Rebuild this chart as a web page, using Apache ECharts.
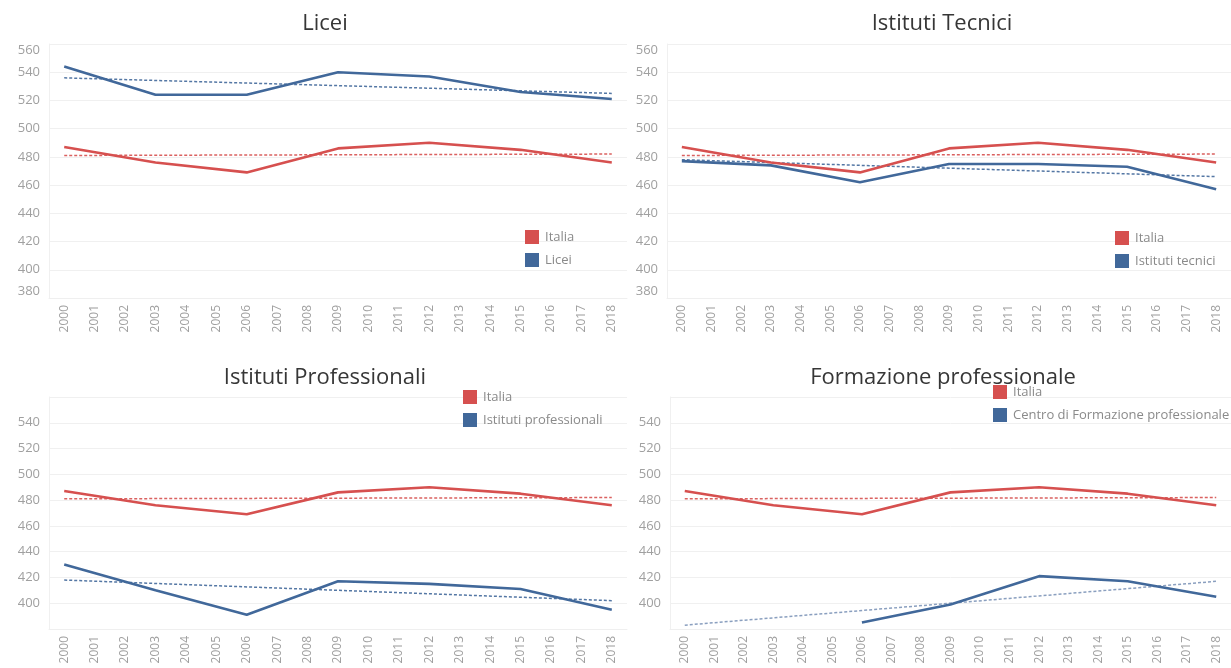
<!DOCTYPE html>
<html>
<head>
<meta charset="utf-8">
<title>Punteggi PISA per indirizzo</title>
<script src="https://cdn.jsdelivr.net/npm/echarts@6/dist/echarts.min.js"></script>
<style>
html, body { margin: 0; padding: 0; background: #fff; }
#chart { width: 1231px; height: 668px; }
</style>
</head>
<body>
<div id="chart"></div>
<script>
// tick labels on the x axes
const YEARS = ['2000', '2001', '2002', '2003', '2004', '2005', '2006', '2007', '2008', '2009',
  '2010', '2011', '2012', '2013', '2014', '2015', '2016', '2017', '2018']
// years with a survey
const SURVEY_YEARS = ['2000', '2003', '2006', '2009', '2012', '2015', '2018']

const ITALIA = [487, 476, 469, 486, 490, 485, 476]
const LICEI = [544, 524, 524, 540, 537, 526, 521]
const TECNICI = [477, 474, 462, 475, 475, 473, 457]
const PROFESSIONALI = [430, 410, 391, 417, 415, 411, 395]
const FORMAZIONE = [null, null, 385, 399, 421, 417, 405]

// trend lines: value at 2000 and at 2018
const ITALIA_TREND = [481, 482]
const LICEI_TREND = [536, 525]
const TECNICI_TREND = [478, 466]
const PROFESSIONALI_TREND = [418, 402]
const FORMAZIONE_TREND = [383, 417]

const Y_MIN = 380
const Y_MAX = 560
const Y_STEP = 20

const RED = '#d6504f'
const BLUE = '#41689a'
const FONT = '"Open Sans", "Noto Sans", sans-serif'

const panels = [
  {
    title: 'Licei', name: 'Licei', values: LICEI, trend: LICEI_TREND, trendColor: BLUE,
    grid: { left: 49, top: 44, width: 578, height: 254 },
    titleAt: [320, 8], legendAt: [525, 230], edgeLabels: true
  },
  {
    title: 'Istituti Tecnici', name: 'Istituti tecnici', values: TECNICI, trend: TECNICI_TREND, trendColor: BLUE,
    grid: { left: 667, top: 44, width: 574, height: 254 },
    titleAt: [937, 8], legendAt: [1115, 231], edgeLabels: true
  },
  {
    title: 'Istituti Professionali', name: 'Istituti professionali', values: PROFESSIONALI, trend: PROFESSIONALI_TREND, trendColor: BLUE,
    grid: { left: 49, top: 397, width: 578, height: 232 },
    titleAt: [320, 362], legendAt: [463, 390], edgeLabels: false
  },
  {
    title: 'Formazione professionale', name: 'Centro di Formazione professionale', values: FORMAZIONE, trend: FORMAZIONE_TREND, trendColor: '#7d95b8',
    grid: { left: 670, top: 397, width: 570, height: 232 },
    titleAt: [938, 362], legendAt: [993, 385], edgeLabels: false
  }
]

function surveyData(vals) {
  return SURVEY_YEARS.map((y, i) => [y, vals[i]])
}
function trendData(ends) {
  return [[YEARS[0], ends[0]], [YEARS[YEARS.length - 1], ends[1]]]
}

const option = {
  animation: false,
  textStyle: { fontFamily: FONT },
  title: panels.map((p) => ({
    text: p.title,
    left: p.titleAt[0],
    top: p.titleAt[1],
    textAlign: 'center',
    textStyle: { fontSize: 22, fontWeight: 500, color: '#363636', fontFamily: FONT }
  })),
  legend: panels.map((p) => ({
    orient: 'vertical',
    left: p.legendAt[0],
    top: p.legendAt[1],
    padding: 0,
    icon: 'rect',
    itemWidth: 14,
    itemHeight: 14,
    itemGap: 9,
    selectedMode: false,
    data: ['Italia', p.name],
    textStyle: { fontSize: 13, color: '#8a8a8a', fontFamily: FONT, padding: [0, 0, 0, 1] }
  })),
  grid: panels.map((p) => p.grid),
  xAxis: panels.map((p, i) => ({
    type: 'category',
    gridIndex: i,
    data: YEARS,
    boundaryGap: true,
    axisLine: { show: true, lineStyle: { color: '#efefef' } },
    axisTick: { show: false },
    axisLabel: { rotate: 90, interval: 0, margin: 7, fontSize: 12, color: '#a0a0a0' },
    splitLine: { show: false }
  })),
  yAxis: panels.map((p, i) => ({
    type: 'value',
    gridIndex: i,
    min: Y_MIN,
    max: Y_MAX,
    interval: Y_STEP,
    axisLine: { show: true, lineStyle: { color: '#f0f0f0' } },
    axisTick: { show: false },
    axisLabel: {
      margin: 9,
      fontSize: 13,
      color: '#a0a0a0',
      verticalAlignMinLabel: 'bottom',
      verticalAlignMaxLabel: 'top',
      formatter: (v) => (!p.edgeLabels && (v === Y_MIN || v === Y_MAX) ? '' : String(v))
    },
    splitLine: { show: true, lineStyle: { color: '#f0f0f0', width: 1 } }
  })),
  series: []
}

panels.forEach((p, i) => {
  option.series.push(
    {
      name: 'Italia-trend', type: 'line', xAxisIndex: i, yAxisIndex: i,
      data: trendData(ITALIA_TREND), showSymbol: false, silent: true,
      lineStyle: { color: RED, width: 1.5, type: [3, 2], opacity: 0.9 }
    },
    {
      name: p.name + '-trend', type: 'line', xAxisIndex: i, yAxisIndex: i,
      data: trendData(p.trend), showSymbol: false, silent: true,
      lineStyle: { color: p.trendColor, width: 1.5, type: [3, 2], opacity: 0.9 }
    },
    {
      name: 'Italia', type: 'line', xAxisIndex: i, yAxisIndex: i,
      data: surveyData(ITALIA), showSymbol: false, connectNulls: true,
      itemStyle: { color: RED },
      lineStyle: { color: RED, width: 2.6 }
    },
    {
      name: p.name, type: 'line', xAxisIndex: i, yAxisIndex: i,
      data: surveyData(p.values), showSymbol: false, connectNulls: true,
      itemStyle: { color: BLUE },
      lineStyle: { color: BLUE, width: 2.6 }
    }
  )
})

const chart = echarts.init(document.getElementById('chart'), null, { renderer: 'canvas' })
chart.setOption(option)
window.addEventListener('resize', () => chart.resize())
</script>
</body>
</html>
